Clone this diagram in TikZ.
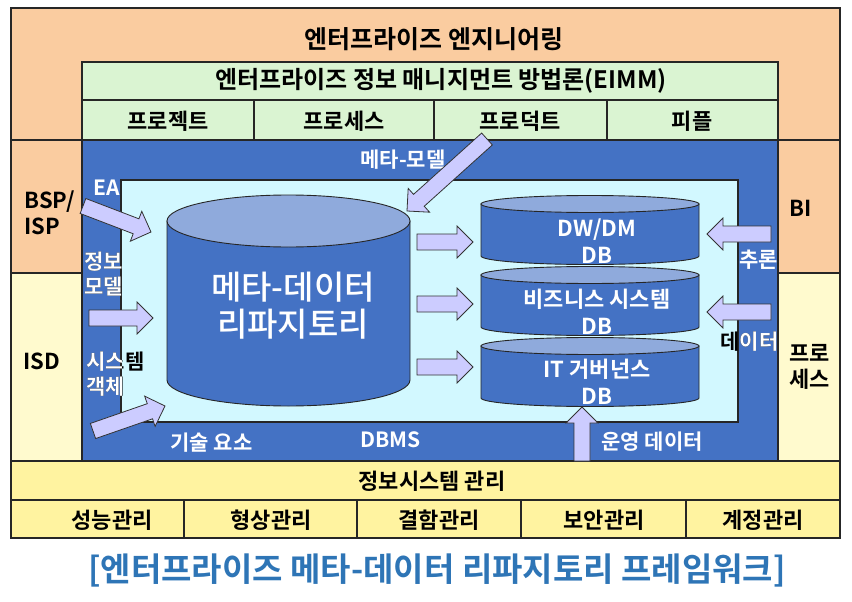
\documentclass[tikz,border=0pt]{standalone}
\usepackage{fontspec}
\setmainfont{Noto Sans CJK KR}[BoldFont={Noto Sans CJK KR Bold}]
\newfontfamily\repofont{Noto Sans CJK KR Medium}
\usetikzlibrary{calc}
\definecolor{eapeach}{RGB}{250,204,160}
\definecolor{eimmgreen}{RGB}{218,244,210}
\definecolor{repoblue}{RGB}{68,114,196}
\definecolor{dbmscyan}{RGB}{210,248,255}
\definecolor{drumlight}{RGB}{143,170,220}
\definecolor{arrowlav}{RGB}{204,204,255}
\definecolor{isdyellow}{RGB}{255,250,206}
\definecolor{mgmtyellow}{RGB}{255,243,160}
\definecolor{captionblue}{RGB}{46,117,182}

% fat block arrow from #1 to #2 (named coordinates)
\newcommand{\fatarrow}[2]{%
  \coordinate (hb) at ($(#2)!16pt!(#1)$);
  \filldraw[blockarrow] ($(#1)!8pt!90:(#2)$) -- ($(hb)!8pt!-90:(#1)$)
    -- ($(hb)!16pt!-90:(#1)$) -- (#2) -- ($(hb)!16pt!90:(#1)$)
    -- ($(hb)!8pt!90:(#1)$) -- ($(#1)!8pt!-90:(#2)$) -- cycle;}
% database drum: centre x, x radius, top y, bottom y, y radius
\newcommand{\dbdrum}[5]{%
  \filldraw[drumbody] (#1-#2,#3) -- (#1-#2,#4)
    arc[start angle=180,end angle=0,x radius=#2,y radius=#5] -- (#1+#2,#3) -- cycle;
  \filldraw[drumtop] (#1,#3) ellipse [x radius=#2,y radius=#5];}

\begin{document}
\begin{tikzpicture}[x=1pt,y=-1pt,
    frame/.style={draw=black!85,line width=1.1pt},
    blockarrow/.style={fill=arrowlav,draw=black!80,line width=0.8pt,line join=miter},
    drumbody/.style={fill=repoblue,draw=black!85,line width=0.9pt},
    drumtop/.style={fill=drumlight,draw=black!85,line width=0.9pt},
    blacklbl/.style={font=\bfseries\fontsize{22}{26}\selectfont,text=black,align=left},
    whitelbl/.style={font=\bfseries\fontsize{21}{25}\selectfont,text=white,align=left},
    darklbl/.style={whitelbl,text=black},
    dblbl/.style={font=\bfseries\fontsize{22}{27}\selectfont,text=white,align=center}]
    \useasboundingbox (0,0) rectangle (852,602);
    % bands and columns
    \fill[eapeach] (11,8) rectangle (840,140);
    \fill[eimmgreen] (82,62) rectangle (778,140);
    \fill[eapeach] (11,140) rectangle (82,273);
    \fill[isdyellow] (11,273) rectangle (82,461);
    \fill[eapeach] (778,140) rectangle (840,273);
    \fill[isdyellow] (778,273) rectangle (840,461);
    \fill[repoblue] (82,140) rectangle (778,461);
    \filldraw[fill=dbmscyan,frame] (121,180) rectangle (738,422);
    \fill[mgmtyellow] (11,461) rectangle (840,538);
    % grid lines
    \draw[frame] (82,62) rectangle (778,461);
    \draw[frame] (82,100) -- (778,100);
    \foreach \gx in {254,434,607} \draw[frame] (\gx,100) -- (\gx,140);
    \draw[frame] (11,140) -- (840,140);
    \draw[frame] (11,273) -- (82,273) (778,273) -- (840,273);
    \draw[frame] (11,461) -- (840,461);
    \draw[frame] (11,500) -- (840,500);
    \foreach \gx in {184,357,521,686} \draw[frame] (\gx,500) -- (\gx,538);
    \draw[frame] (11,8) rectangle (840,538);

    % top labels
    \node[blacklbl,font=\bfseries\fontsize{25}{28}\selectfont] (ee) at (434,39) {엔터프라이즈 엔지니어링};
    \node[blacklbl,font=\bfseries\fontsize{24}{28}\selectfont] (eimm) at (441,81) {엔터프라이즈 정보 매니지먼트 방법론(EIMM)};
    \node[blacklbl] (project) at (168,121) {프로젝트};
    \node[blacklbl] (process) at (344,121) {프로세스};
    \node[blacklbl] (product) at (520,121) {프로덕트};
    \node[blacklbl] (people) at (692,121) {피플};

    % side labels
    \node[blacklbl,anchor=west] (bspisp) at (21,213) {BSP/\\ISP};
    \node[blacklbl,anchor=west] (isd) at (20,361) {ISD};
    \node[blacklbl,anchor=west] (bi) at (786,208) {BI};
    \node[blacklbl,anchor=west] (procr) at (786,367) {프로\\세스};

    % drums
    \dbdrum{288.5}{121.5}{221}{380}{26}
    \dbdrum{590}{109}{204}{256}{8.5}
    \dbdrum{590}{109}{275}{327}{8.5}
    \dbdrum{590}{109}{346}{398}{8.5}
    \node[dblbl,font=\repofont\fontsize{33}{37}\selectfont] (repo) at (293,306) {메타-데이터\\리파지토리};
    \node[dblbl] (dwdm) at (597,241) {DW/DM\\DB};
    \node[dblbl] (bizsys) at (597,312) {비즈니스 시스템\\DB};
    \node[dblbl] (itgov) at (597,382) {IT 거버넌스\\DB};

    % labels in the blue area (dark where they run onto the light box)
    \node[darklbl,anchor=west] (infomodel) at (81,274) {정보\\모델};
    \node[darklbl,anchor=west] (sysobj) at (83,374) {시스템\\객체};
    \node[darklbl,anchor=west] (datalbl) at (717,342) {데이터};
    \begin{scope}
      \clip (82,140) rectangle (121,461) (738,140) rectangle (778,461);
      \node[whitelbl,anchor=west] (infomodel-w) at (81,274) {정보\\모델};
      \node[whitelbl,anchor=west] (sysobj-w) at (83,374) {시스템\\객체};
      \node[whitelbl,anchor=west] (datalbl-w) at (717,342) {데이터};
    \end{scope}
    \node[whitelbl,anchor=west] (ea) at (90,188) {EA};
    \node[whitelbl,anchor=west] (metamodel) at (357,160) {메타-모델};
    \node[whitelbl,anchor=west] (techelem) at (167,443) {기술 요소};
    \node[whitelbl,anchor=west] (dbms) at (357,440) {DBMS};
    \node[whitelbl,anchor=west] (opdata) at (598,442) {운영 데이터};
    \node[whitelbl,anchor=west] (infer) at (736,260) {추론};

    % arrows
    \coordinate (ea-s) at (83,206);   \coordinate (ea-t) at (151,232);
    \coordinate (im-s) at (89,318);   \coordinate (im-t) at (153,318);
    \coordinate (so-s) at (93,431);   \coordinate (so-t) at (165,406);
    \coordinate (mm-s) at (487,139);  \coordinate (mm-t) at (407,211);
    \coordinate (inf-s) at (771,234); \coordinate (inf-t) at (707,234);
    \coordinate (dat-s) at (771,312); \coordinate (dat-t) at (707,312);
    \coordinate (op-s) at (582,461);  \coordinate (op-t) at (582,407);
    \fatarrow{ea-s}{ea-t}
    \fatarrow{im-s}{im-t}
    \fatarrow{so-s}{so-t}
    \fatarrow{mm-s}{mm-t}
    \foreach \ry [count=\ri] in {242,304,367} {
      \coordinate (r\ri-s) at (417,\ry); \coordinate (r\ri-t) at (473,\ry);
      \fatarrow{r\ri-s}{r\ri-t}
    }
    \fatarrow{inf-s}{inf-t}
    \fatarrow{dat-s}{dat-t}
    \fatarrow{op-s}{op-t}

    % management rows
    \node[blacklbl] (ismgmt) at (432,481) {정보시스템 관리};
    \node[blacklbl] (perf) at (112,520) {성능관리};
    \node[blacklbl] (config) at (271,520) {형상관리};
    \node[blacklbl] (fault) at (439,520) {결함관리};
    \node[blacklbl] (security) at (604,520) {보안관리};
    \node[blacklbl] (account) at (763,520) {계정관리};

    % caption
    \node[font=\bfseries\fontsize{33}{36}\selectfont,text=captionblue] (caption) at (437,570)
      {[엔터프라이즈 메타-데이터 리파지토리 프레임워크]};
\end{tikzpicture}
\end{document}
